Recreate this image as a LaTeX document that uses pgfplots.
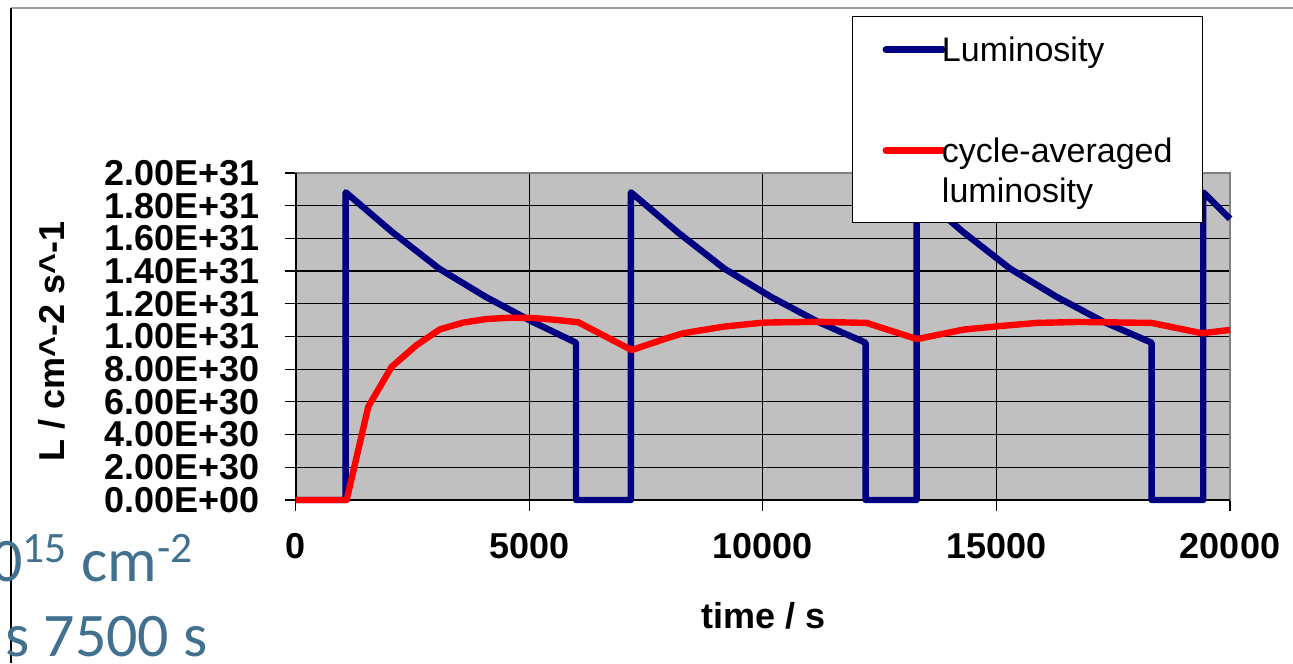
\documentclass[border=0pt]{standalone}
\usepackage{pgfplots}
\pgfplotsset{compat=1.18}
\usepackage{fontspec}
\setmainfont{Liberation Sans}
\newfontfamily\calibri{Carlito}
\definecolor{plotbg}{HTML}{C0C0C0}
\definecolor{lumblue}{HTML}{000080}
\definecolor{lumred}{HTML}{FF0000}
\definecolor{slideteal}{HTML}{41718F}
\definecolor{framegray}{HTML}{A0A0A0}
\definecolor{axgray}{HTML}{808080}

\pgfplotstableread{
t L
0 0
1070 0
1070 1.882
2070 1.638
3070 1.415
4070 1.242
5070 1.090
6000 0.962
6000 0
7176 0
7176 1.882
8176 1.638
9176 1.415
10176 1.242
11176 1.090
12200 0.962
12200 0
13292 0
13292 1.882
14292 1.638
15292 1.415
16292 1.242
17292 1.090
18322 0.962
18322 0
19427 0
19427 1.882
20000 1.720
}\lumdata

\pgfplotstableread{
t L
0 0
1090 0
1554 0.571
2055 0.815
2590 0.948
3089 1.044
3588 1.085
4088 1.107
4600 1.115
5100 1.113
5586 1.101
6049 1.087
7192 0.917
7941 0.989
8297 1.020
9152 1.060
10009 1.085
11151 1.090
12221 1.083
13300 0.984
14290 1.042
15004 1.062
15860 1.083
16787 1.089
18322 1.083
19400 1.020
20000 1.040
}\avgdata

\begin{document}
\begin{tikzpicture}[x=0.5pt,y=0.5pt]
\useasboundingbox (0,0) rectangle (1293,663);
\begin{scope}
\clip (0,0) rectangle (1293,663);
\draw[framegray, line width=0.8pt] (11,655) -- (1293,655);
\draw[black, line width=0.7pt] (11,655) -- (11,0);
\node[text=slideteal, font=\calibri\fontsize{31}{36}\selectfont, anchor=base east, inner sep=0pt] at (194,82) {10\textsuperscript{15} cm\textsuperscript{-2}};
\node[text=slideteal, font=\calibri\fontsize{31}{36}\selectfont, anchor=base west, inner sep=0pt] at (5,7) {s 7500 s};

\begin{axis}[
  at={(147.85pt,81.5pt)}, anchor=south west,
  scale only axis, width=467.15pt, height=163.5pt,
  xmin=0, xmax=20000, ymin=0, ymax=2,
  clip=false,
  scaled x ticks=false, scaled y ticks=false,
  axis background/.style={fill=plotbg},
  axis line style={draw=axgray, line width=0.8pt},
  xtick={0,5000,10000,15000,20000},
  xticklabels={0,5000,10000,15000,20000},
  ytick={0,0.2,0.4,0.6,0.8,1,1.2,1.4,1.6,1.8,2},
  yticklabels={0.00E+00,2.00E+30,4.00E+30,6.00E+30,8.00E+30,1.00E+31,1.20E+31,1.40E+31,1.60E+31,1.80E+31,2.00E+31},
  xtick pos=bottom, ytick pos=left,
  tick align=outside, major tick length=5.5pt,
  tick style={black, line width=0.6pt},
  tick label style={font=\bfseries\fontsize{18}{19}\selectfont, inner sep=0pt},
  yticklabel style={anchor=east, xshift=-12.3pt},
  xticklabel style={anchor=north, yshift=-11pt},
  grid=major, major grid style={black, line width=0.6pt},
  xlabel={time / s},
  ylabel={L / cm\textasciicircum-2 s\textasciicircum-1},
  label style={font=\bfseries\fontsize{18}{20}\selectfont},
  xlabel style={at={(axis description cs:0.5002,-0.3547)}, anchor=center},
  ylabel style={at={(axis description cs:-0.2608,0.486)}, anchor=center},
  legend style={at={(0.5954,1.480)}, anchor=north west, draw=black, line width=0.6pt, fill=white,
    font=\fontsize{17}{19}\selectfont, inner xsep=15pt, inner ysep=8.5pt,
    row sep=0pt, column sep=-2pt, nodes={inner sep=0pt, anchor=base west}},
  legend cell align=left,
  legend image code/.code={\draw[#1, line cap=round] (0pt,6pt) -- (28.5pt,6pt);},
]
\draw[black, line width=0.8pt] (rel axis cs:0,1) -- (rel axis cs:0,0) -- (rel axis cs:1,0);
\addplot[lumblue, line width=3.2pt, line join=round] table[x=t, y=L] {\lumdata};
\addlegendentry{\rule{0pt}{14pt}Luminosity}
\addplot[lumred, line width=3.2pt, line join=round] table[x=t, y=L] {\avgdata};
\addlegendentry{\rule{0pt}{49pt}cycle-averaged}
\addlegendimage{empty legend}
\addlegendentry{\rule{0pt}{18.5pt}luminosity}
\end{axis}
\end{scope}
\end{tikzpicture}
\end{document}
